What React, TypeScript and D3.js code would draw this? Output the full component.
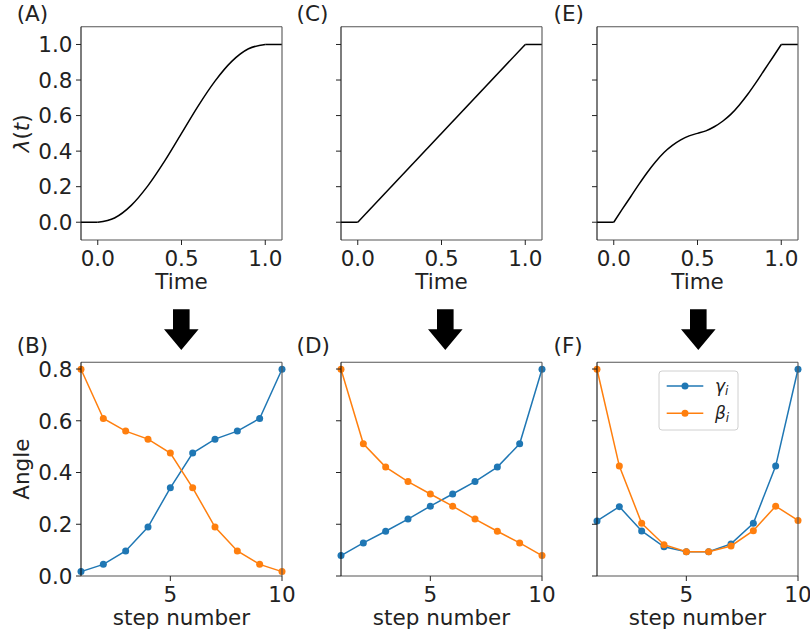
import React from "react";
import * as d3 from "d3";

// ---------- data ----------
const steps = [1, 2, 3, 4, 5, 6, 7, 8, 9, 10];

const gammaB = [0.017, 0.045, 0.097, 0.189, 0.341, 0.475, 0.529, 0.56, 0.609, 0.799];
const betaB = [0.799, 0.609, 0.56, 0.529, 0.475, 0.341, 0.189, 0.097, 0.045, 0.017];

const gammaD = [0.079, 0.128, 0.173, 0.22, 0.27, 0.317, 0.365, 0.421, 0.511, 0.799];
const betaD = [0.799, 0.511, 0.421, 0.365, 0.317, 0.27, 0.22, 0.173, 0.128, 0.079];

const gammaF = [0.213, 0.268, 0.174, 0.113, 0.094, 0.094, 0.124, 0.204, 0.425, 0.799];
const betaF = [0.799, 0.425, 0.204, 0.121, 0.094, 0.094, 0.116, 0.175, 0.27, 0.215];

// schedule curves lambda(t) sampled on [0, 1]
const timeSmooth = [0, 0.1, 0.2, 0.3, 0.4, 0.5, 0.6, 0.7, 0.8, 0.9, 1.0];
const lambdaA = [0, 0.024, 0.095, 0.206, 0.345, 0.5, 0.655, 0.794, 0.905, 0.976, 1.0];

const timeLinear = [0, 1.0];
const lambdaC = [0, 1.0];

const timeE = [0, 0.05, 0.1, 0.15, 0.2, 0.25, 0.3, 0.35, 0.4, 0.45, 0.5, 0.55, 0.6, 0.65, 0.7, 0.75, 0.8, 0.85, 0.9, 0.95, 1.0];
const lambdaE = [0, 0.072, 0.142, 0.213, 0.28, 0.34, 0.392, 0.432, 0.463, 0.486, 0.5, 0.514, 0.537, 0.568, 0.608, 0.66, 0.72, 0.787, 0.858, 0.928, 1.0];

const timeTicks = [0, 0.5, 1.0];
const lambdaTicks = [0, 0.2, 0.4, 0.6, 0.8, 1.0];
const stepTicks = [5, 10];
const angleTicks = [0, 0.2, 0.4, 0.6, 0.8];

const topLetters = ["(A)", "(C)", "(E)"];
const bottomLetters = ["(B)", "(D)", "(F)"];

// ---------- layout ----------
const FONT = "DejaVu Sans, sans-serif";
const FS = 21.5;
const lefts = [81, 341, 597];
const letterX = [16.7, 296.6, 553.5];
const PW = 201;
const topY0 = 26.7, topY1 = 240;
const botY0 = 362.3, botY1 = 576;
const arrowX = [181.3, 445.3, 698.3];
const BLUE = "#1f77b4";
const ORANGE = "#ff7f0e";

const topCurves = [
  { t: timeSmooth, v: lambdaA, curve: d3.curveMonotoneX },
  { t: timeLinear, v: lambdaC, curve: d3.curveLinear },
  { t: timeE, v: lambdaE, curve: d3.curveMonotoneX },
];
const botSeries = [
  { g: gammaB, b: betaB },
  { g: gammaD, b: betaD },
  { g: gammaF, b: betaF },
];

function Frame({ x0, x1, y0, y1 }: { x0: number; x1: number; y0: number; y1: number }) {
  return (
    <g>
      <line x1={x0} x2={x1} y1={y0} y2={y0} stroke="#555" strokeWidth={1.1} />
      <line x1={x1} x2={x1} y1={y0} y2={y1} stroke="#555" strokeWidth={1.1} />
      <line x1={x0} x2={x1} y1={y1} y2={y1} stroke="#555" strokeWidth={1.1} />
      <line x1={x0} x2={x0} y1={y0} y2={y1} stroke="#111" strokeWidth={1.1} />
    </g>
  );
}

function TopPanel({ i }: { i: number }) {
  const x0 = lefts[i], x1 = x0 + PW;
  const xs = d3.scaleLinear().domain([-0.1, 1.1]).range([x0, x1]);
  const ys = d3.scaleLinear().domain([-0.1, 1.1]).range([topY1, topY0]);
  const c = topCurves[i];
  const pts: [number, number][] = c.t.map((t, k) => [t, c.v[k]]);
  const line = d3.line<[number, number]>().x((d) => xs(d[0])).y((d) => ys(d[1])).curve(c.curve);
  const flat = d3.line<[number, number]>().x((d) => xs(d[0])).y((d) => ys(d[1]));
  const first = pts[0], last = pts[pts.length - 1];
  return (
    <g>
      <path d={flat([[-0.1, first[1]], first]) || ""} fill="none" stroke="#000" strokeWidth={1.5} />
      <path d={line(pts) || ""} fill="none" stroke="#000" strokeWidth={1.5} />
      <path d={flat([last, [1.1, last[1]]]) || ""} fill="none" stroke="#000" strokeWidth={1.5} />
      <Frame x0={x0} x1={x1} y0={topY0} y1={topY1} />
      {lambdaTicks.map((v) => (
        <g key={v}>
          <line x1={x0 - 5} x2={x0} y1={ys(v)} y2={ys(v)} stroke="#222" strokeWidth={1} />
          {i === 0 && (
            <text x={x0 - 8.5} y={ys(v)} dy="0.36em" textAnchor="end" fontSize={FS} fontFamily={FONT} fill="#222">
              {d3.format(".1f")(v)}
            </text>
          )}
        </g>
      ))}
      {timeTicks.map((v) => (
        <g key={v}>
          <line x1={xs(v)} x2={xs(v)} y1={topY1} y2={topY1 + 5} stroke="#222" strokeWidth={1} />
          <text x={xs(v)} y={topY1 + 25.6} textAnchor="middle" fontSize={FS} fontFamily={FONT} fill="#222">
            {d3.format(".1f")(v)}
          </text>
        </g>
      ))}
      <text x={(x0 + x1) / 2} y={topY1 + 49} textAnchor="middle" fontSize={FS} fontFamily={FONT} fill="#222">
        Time
      </text>
      <text x={letterX[i]} y={21} fontSize={FS} fontFamily={FONT} fill="#222">
        {topLetters[i]}
      </text>
      {i === 0 && (
        <text transform={`translate(29,${(topY0 + topY1) / 2}) rotate(-90)`} textAnchor="middle" fontSize={FS} fontFamily={FONT} fill="#222">
          <tspan fontStyle="italic">λ</tspan>(<tspan fontStyle="italic">t</tspan>)
        </text>
      )}
    </g>
  );
}

function BottomPanel({ i }: { i: number }) {
  const x0 = lefts[i], x1 = x0 + PW;
  const xs = d3.scaleLinear().domain([1, 10]).range([x0, x1]);
  const ys = d3.scaleLinear().domain([0, 0.826]).range([botY1, botY0]);
  const s = botSeries[i];
  const line = d3.line<number>().x((_, k) => xs(steps[k])).y((d) => ys(d));
  return (
    <g>
      <path d={line(s.g) || ""} fill="none" stroke={BLUE} strokeWidth={1.5} />
      {s.g.map((v, k) => (
        <circle key={"g" + k} cx={xs(steps[k])} cy={ys(v)} r={3.5} fill={BLUE} />
      ))}
      <path d={line(s.b) || ""} fill="none" stroke={ORANGE} strokeWidth={1.5} />
      {s.b.map((v, k) => (
        <circle key={"b" + k} cx={xs(steps[k])} cy={ys(v)} r={3.5} fill={ORANGE} />
      ))}
      <Frame x0={x0} x1={x1} y0={botY0} y1={botY1} />
      {angleTicks.map((v) => (
        <g key={v}>
          <line x1={x0 - 5} x2={x0} y1={ys(v)} y2={ys(v)} stroke="#222" strokeWidth={1} />
          {i === 0 && (
            <text x={x0 - 8.5} y={ys(v)} dy="0.36em" textAnchor="end" fontSize={FS} fontFamily={FONT} fill="#222">
              {d3.format(".1f")(v)}
            </text>
          )}
        </g>
      ))}
      {stepTicks.map((v) => (
        <g key={v}>
          <line x1={xs(v)} x2={xs(v)} y1={botY1} y2={botY1 + 5} stroke="#222" strokeWidth={1} />
          <text x={xs(v)} y={botY1 + 25.6} textAnchor="middle" fontSize={FS} fontFamily={FONT} fill="#222">
            {v}
          </text>
        </g>
      ))}
      <text x={(x0 + x1) / 2} y={botY1 + 49} textAnchor="middle" fontSize={FS} fontFamily={FONT} fill="#222">
        step number
      </text>
      <text x={letterX[i]} y={botY0 - 9} fontSize={FS} fontFamily={FONT} fill="#222">
        {bottomLetters[i]}
      </text>
      {i === 0 && (
        <text transform={`translate(29,${(botY0 + botY1) / 2}) rotate(-90)`} textAnchor="middle" fontSize={FS} fontFamily={FONT} fill="#222">
          Angle
        </text>
      )}
      {/* arrow */}
      <path
        d={`M${arrowX[i] - 8.3},309.3 L${arrowX[i] + 8.3},309.3 L${arrowX[i] + 8.3},329.3 L${arrowX[i] + 17.3},329.3 L${arrowX[i]},350 L${arrowX[i] - 17.3},329.3 L${arrowX[i] - 8.3},329.3 Z`}
        fill="#000"
      />
    </g>
  );
}

function Legend() {
  const lx = 659, ly = 371;
  const entries = [
    { sym: "γ", color: BLUE, y: 386 },
    { sym: "β", color: ORANGE, y: 413.3 },
  ];
  return (
    <g>
      <rect x={lx} y={ly} width={79} height={59} rx={3} fill="#fff" fillOpacity={0.8} stroke="#d0d0d0" strokeWidth={1} />
      {entries.map((e) => (
        <g key={e.sym}>
          <line x1={666.7} x2={703.3} y1={e.y} y2={e.y} stroke={e.color} strokeWidth={1.5} />
          <circle cx={685} cy={e.y} r={3.5} fill={e.color} />
          <text x={715} y={e.y + 6} fontSize={17} fontFamily={FONT} fill="#222">
            <tspan fontStyle="italic">{e.sym}</tspan>
            <tspan fontStyle="italic" fontSize={12} dy={3}>i</tspan>
          </text>
        </g>
      ))}
    </g>
  );
}

export default function App() {
  return (
    <svg width={810} height={639} style={{ display: "block", position: "absolute", left: 0, top: 0, background: "#fff" }}>
      <rect x={0} y={0} width={810} height={639} fill="#fff" />
      {[0, 1, 2].map((i) => (
        <TopPanel key={"t" + i} i={i} />
      ))}
      {[0, 1, 2].map((i) => (
        <BottomPanel key={"b" + i} i={i} />
      ))}
      <Legend />
    </svg>
  );
}
